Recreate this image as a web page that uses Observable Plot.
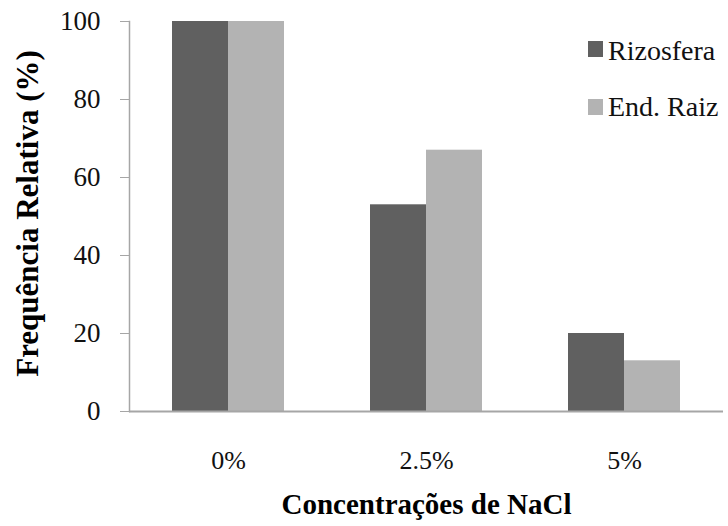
<!DOCTYPE html>
<html>
<head>
<meta charset="utf-8">
<script src="https://cdn.jsdelivr.net/npm/d3@7"></script>
<script src="https://cdn.jsdelivr.net/npm/@observablehq/plot@0.6"></script>
<style>
  html, body { margin: 0; padding: 0; background: #fff; }
  #wrap { position: relative; width: 728px; height: 526px; font-family: "Liberation Serif", "Times New Roman", serif; }
  .leg { position: absolute; font-size: 28px; color: #111; line-height: 1; white-space: nowrap; font-family: "Liberation Serif", "Times New Roman", serif; }
  .sw { position: absolute; width: 15px; height: 16px; }
</style>
</head>
<body>
<div id="wrap"></div>
<script>
const groups = ["0%", "2.5%", "5%"];
const series = ["Rizosfera", "End. Raiz"];
const rizosfera = [100, 53, 20];
const endRaiz = [100, 67, 13];
const yTicks = [0, 20, 40, 60, 80, 100];
const colors = ["#606060", "#b3b3b3"];
const xTitle = "Concentrações de NaCl";
const yTitle = "Frequência Relativa (%)";

const rows = [];
groups.forEach((g, i) => {
  rows.push({group: g, series: series[0], value: rizosfera[i]});
  rows.push({group: g, series: series[1], value: endRaiz[i]});
});

const chart = Plot.plot({
  width: 728,
  height: 526,
  marginLeft: 129,
  marginRight: 5,
  marginTop: 21,
  marginBottom: 115,
  style: {fontFamily: '"Liberation Serif", "Times New Roman", serif', background: "#fff", color: "#111"},
  x: {domain: groups, padding: 0},
  y: {domain: [0, 100]},
  color: {domain: series, range: colors},
  marks: [
    Plot.barY(rows.filter(d => d.series === series[0]), {x: "group", y: "value", fill: "series", insetLeft: 43, insetRight: 99}),
    Plot.barY(rows.filter(d => d.series === series[1]), {x: "group", y: "value", fill: "series", insetLeft: 99, insetRight: 43}),
    Plot.frame({anchor: "left", stroke: "#a6a6a6", strokeWidth: 1.5}),
    Plot.ruleY([0], {stroke: "#a6a6a6", strokeWidth: 2}),
    Plot.axisY({ticks: yTicks, tickSize: 9, tickPadding: 20, fontSize: 27, stroke: "#a6a6a6", fill: "#111", label: null}),
    Plot.axisX({tickSize: 0, tickPadding: 39, fontSize: 26, fill: "#111", label: null}),
    Plot.text([xTitle], {text: d => d, frameAnchor: "bottom", dy: 102, lineAnchor: "bottom", fontSize: 29, fontWeight: "bold", fill: "#000"}),
    Plot.text([yTitle], {text: d => d, frameAnchor: "left", textAnchor: "middle", rotate: -90, dx: -92, dy: -3, lineAnchor: "bottom", fontSize: 31, fontWeight: "bold", fill: "#000"})
  ]
});

const wrap = document.getElementById("wrap");
wrap.appendChild(chart);

const legendPos = [{top: 41, textTop: 37}, {top: 99, textTop: 93}];
series.forEach((s, i) => {
  const sw = document.createElement("div");
  sw.className = "sw";
  sw.style.left = "588px";
  sw.style.top = legendPos[i].top + "px";
  sw.style.background = colors[i];
  wrap.appendChild(sw);
  const t = document.createElement("div");
  t.className = "leg";
  t.style.left = "608px";
  t.style.top = legendPos[i].textTop + "px";
  t.textContent = s;
  wrap.appendChild(t);
});
</script>
</body>
</html>
